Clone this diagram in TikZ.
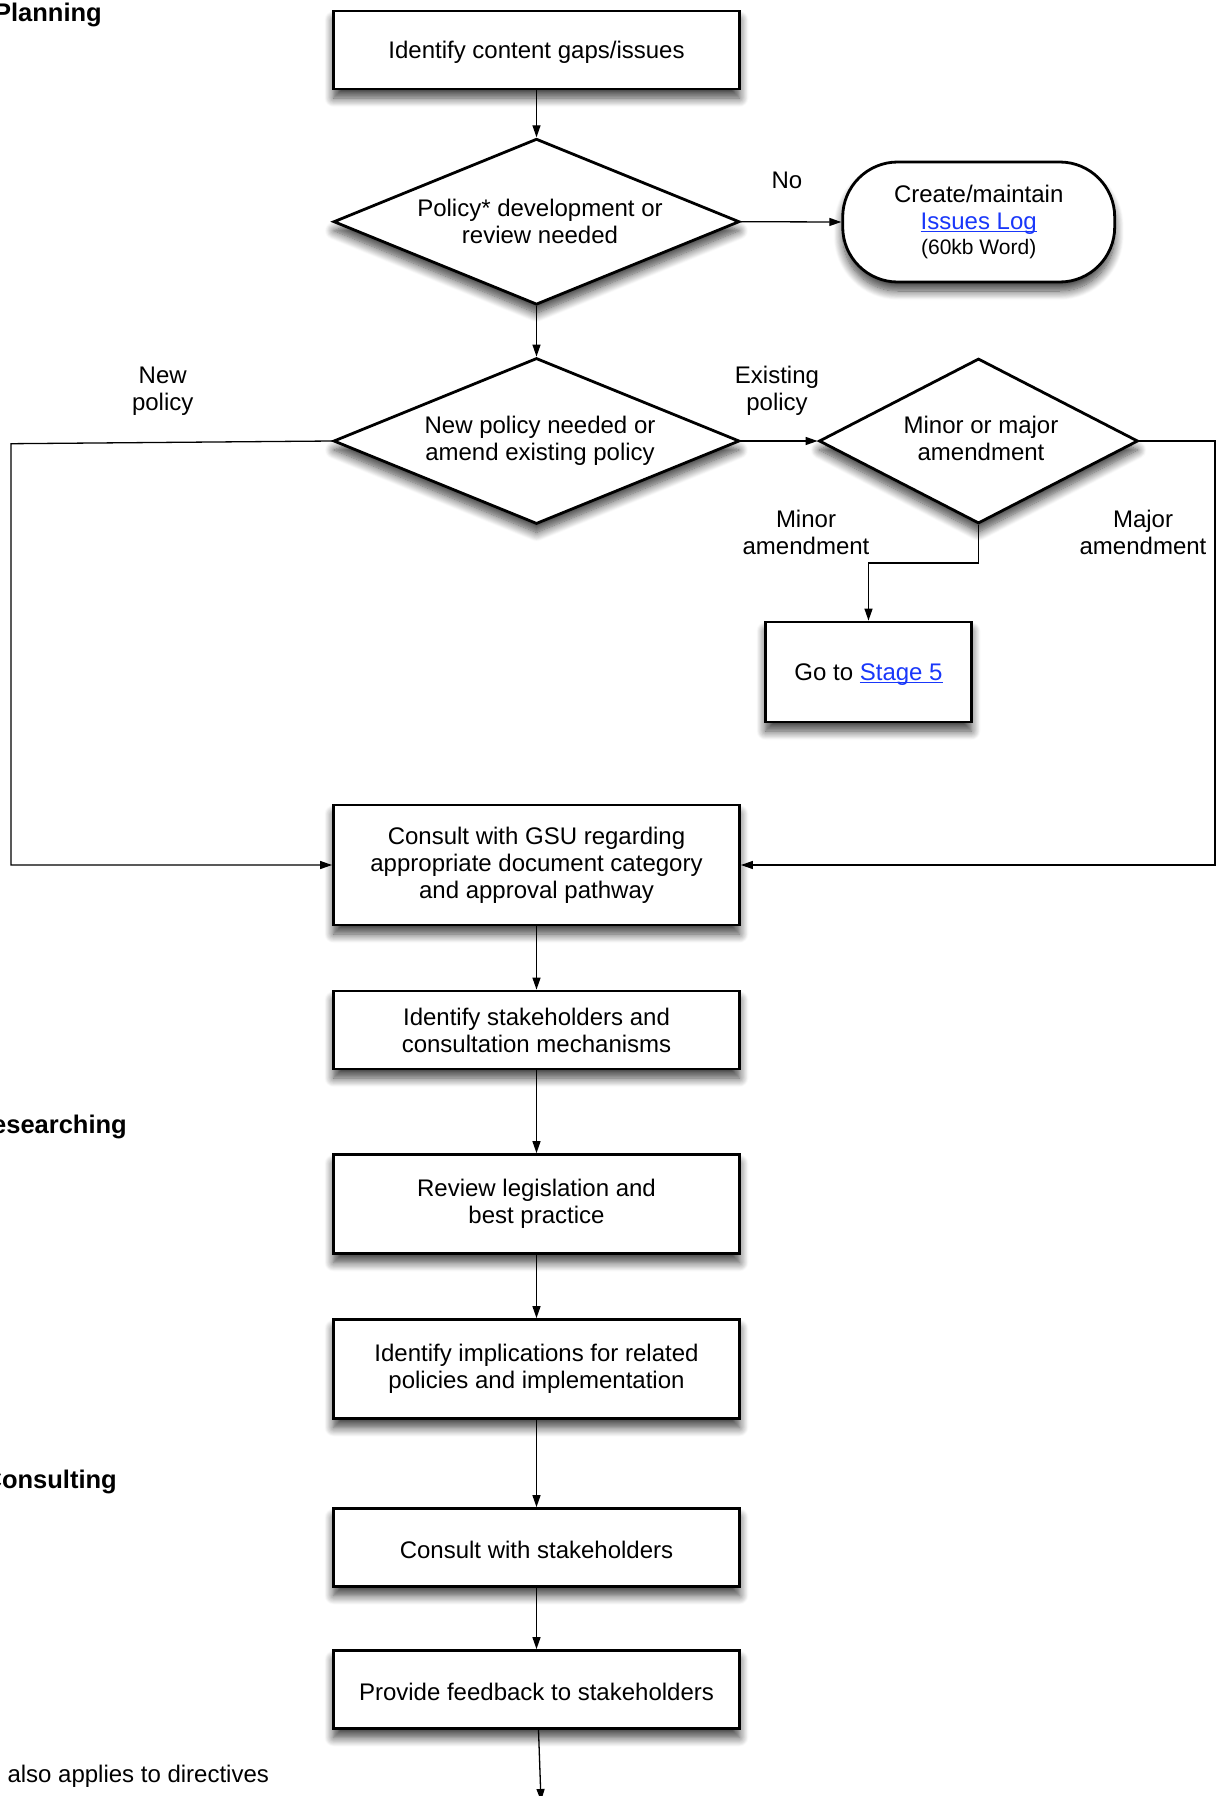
\documentclass[tikz,border=0pt]{standalone}
\usepackage{fontspec}
\setmainfont{Liberation Sans}
\usetikzlibrary{shapes.geometric,arrows.meta,shadows.blur}
\definecolor{linkblue}{RGB}{25,55,250}
\newcommand{\ulink}[1]{{\color{linkblue}\setbox0=\hbox{#1}\rlap{\rule[-2.6pt]{\wd0}{1.6pt}}\box0}}
\begin{document}
\begin{tikzpicture}[x=1pt,y=-1pt,
  every node/.style={font=\fontsize{24}{27}\selectfont},
  shd/.style={blur shadow={shadow xshift=0pt,shadow yshift=-9pt,shadow blur radius=9pt,shadow blur steps=12,shadow opacity=75}},
  lower/.style={execute at begin node={\rule{0pt}{22pt}}},
  proc/.style={draw, line width=2.8pt, fill=white, rectangle, minimum width=406pt, align=center, inner sep=0pt, shd, lower},
  dec/.style={draw, line width=2.8pt, fill=white, diamond, shape aspect=2.45, inner sep=0pt, align=center, shd},
  term/.style={draw, line width=2.8pt, fill=white, rounded corners=55pt, minimum width=272pt, minimum height=120pt, align=center, inner sep=0pt, shd, lower},
  conn/.style={line width=1.3pt},
  arr/.style={conn, -{Triangle[length=12pt,width=8pt]}},
  lbl/.style={align=center, inner sep=0pt},
  head/.style={font=\fontsize{25.5}{28}\selectfont\bfseries, inner sep=0pt, anchor=base east}]
\useasboundingbox (0,0) rectangle (1225,1796);
\clip (0,0) rectangle (1225,1796);

% headings
\node[head] (h1) at (102,21) {Planning};
\node[head] (h2) at (127,1133) {Researching};
\node[head] (h3) at (117,1488) {Consulting};
\node[lbl, anchor=base west] (note) at (7.3,1782) {also applies to directives};

% nodes
\node[proc, minimum height=78pt] (b1) at (536.5,50) {Identify content gaps/issues};
\node[dec, minimum width=406pt, minimum height=166pt] (d1) at (536.5,221.7) {\hspace*{7pt}Policy* development or\\\hspace*{7pt}review needed};
\node[term] (t1) at (978.7,222) {Create/maintain\\\ulink{Issues Log}\\[-2pt]{\fontsize{21}{24}\selectfont (60kb Word)}};
\node[dec, minimum width=406pt, minimum height=166pt] (d2) at (536.5,441) {\hspace*{7pt}New policy needed or\\\hspace*{7pt}amend existing policy};
\node[dec, minimum width=319pt, minimum height=165pt, shape aspect=1.95] (d3) at (978.5,441) {\hspace*{5pt}Minor or major\\\hspace*{5pt}amendment\rule[-5pt]{0pt}{5pt}};
\node[proc, minimum width=206pt, minimum height=100pt] (s5) at (868.5,672) {Go to \ulink{Stage 5}};
\node[proc, minimum height=120pt] (gsu) at (536.5,865) {Consult with GSU regarding\\appropriate document category\\and approval pathway};
\node[proc, minimum height=78pt] (stk) at (536.5,1030) {Identify stakeholders and\\consultation mechanisms};
\node[proc, minimum height=99pt] (rev) at (536.5,1204) {Review legislation and\\best practice};
\node[proc, minimum height=99pt] (imp) at (536.5,1369) {Identify implications for related\\policies and implementation};
\node[proc, minimum height=78pt] (con) at (536.5,1547.5) {Consult with stakeholders};
\node[proc, minimum height=78pt] (fb) at (536.5,1689.5) {Provide feedback to stakeholders};

% labels
\node[lbl] (no) at (787,180) {No};
\node[lbl] (newp) at (162.7,391) {New\\policy};
\node[lbl] (exist) at (777,391) {Existing\\policy};
\node[lbl] (minor) at (806,532.5) {Minor\\amendment};
\node[lbl] (major) at (1143,532.5) {Major\\amendment};

% connectors
\coordinate (L1) at (11,443.7);
\coordinate (R1) at (1215,441);
\coordinate (E) at (541,1801);
\draw[arr] (b1) -- (d1);
\draw[arr] (d1.east) -- (t1.west);
\draw[arr] (d1) -- (d2);
\draw[arr] (d2.west) -- (L1) |- (gsu.west);
\draw[arr] (d2.east) -- (d3.west);
\draw[arr] (d3.east) -- (R1) |- (gsu.east);
\draw[arr] (d3.south) -- ++(0,38) -| (s5.north);
\draw[arr] (gsu) -- (stk);
\draw[arr] (stk) -- (rev);
\draw[arr] (rev) -- (imp);
\draw[arr] (imp) -- (con);
\draw[arr] (con) -- (fb);
\draw[arr] ([xshift=2pt]fb.south) -- (E);
\end{tikzpicture}
\end{document}
